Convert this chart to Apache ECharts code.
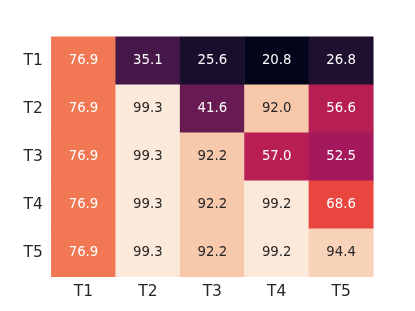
<!DOCTYPE html>
<html><head><meta charset="utf-8">
<script src="https://cdn.jsdelivr.net/npm/echarts@6/dist/echarts.min.js"></script>
<style>html,body{margin:0;padding:0;background:#fff}#c{width:415px;height:311px}</style>
</head><body><div id="c"></div>
<script>
const xLabels = ['T1','T2','T3','T4','T5'];
const yLabels = ['T1','T2','T3','T4','T5'];
// rows: T1..T5, columns: T1..T5
const rowT1 = [76.9, 35.1, 25.6, 20.8, 26.8];
const rowT2 = [76.9, 99.3, 41.6, 92.0, 56.6];
const rowT3 = [76.9, 99.3, 92.2, 57.0, 52.5];
const rowT4 = [76.9, 99.3, 92.2, 99.2, 68.6];
const rowT5 = [76.9, 99.3, 92.2, 99.2, 94.4];
const rows = [rowT1, rowT2, rowT3, rowT4, rowT5];

const data = [];
rows.forEach((r, yi) => r.forEach((v, xi) => {
  data.push({value: [xi, yi, v], label: {color: v > 80 ? '#262626' : '#ffffff'}});
}));
const all = rows.flat();
const vmin = Math.min(...all), vmax = Math.max(...all);

const chart = echarts.init(document.getElementById('c'));
chart.setOption({
  animation: false,
  grid: {left: 51.3, right: 41.7, top: 36.7, bottom: 34.3},
  xAxis: {type: 'category', data: xLabels, axisLine: {show: false}, axisTick: {show: false},
    axisLabel: {color: '#262626', fontSize: 15.5, fontFamily: 'DejaVu Sans', margin: 7}, splitArea: {show: false}},
  yAxis: {type: 'category', data: yLabels, inverse: true, axisLine: {show: false}, axisTick: {show: false},
    axisLabel: {color: '#262626', fontSize: 15.5, fontFamily: 'DejaVu Sans', margin: 8.5}},
  visualMap: {show: false, type: 'continuous', min: vmin, max: vmax, dimension: 2,
    inRange: {color: ['#03051A','#271335','#4B194D','#781C57','#A2195B','#C8234F','#E8423F','#F2724F','#F59D76','#F7C4A6','#FBEADC']}},
  series: [{type: 'heatmap', data: data,
    label: {show: true, fontSize: 13.3, fontFamily: 'DejaVu Sans', formatter: p => p.value[2].toFixed(1)},
    itemStyle: {borderWidth: 0}, emphasis: {disabled: true}}]
});
</script></body></html>
